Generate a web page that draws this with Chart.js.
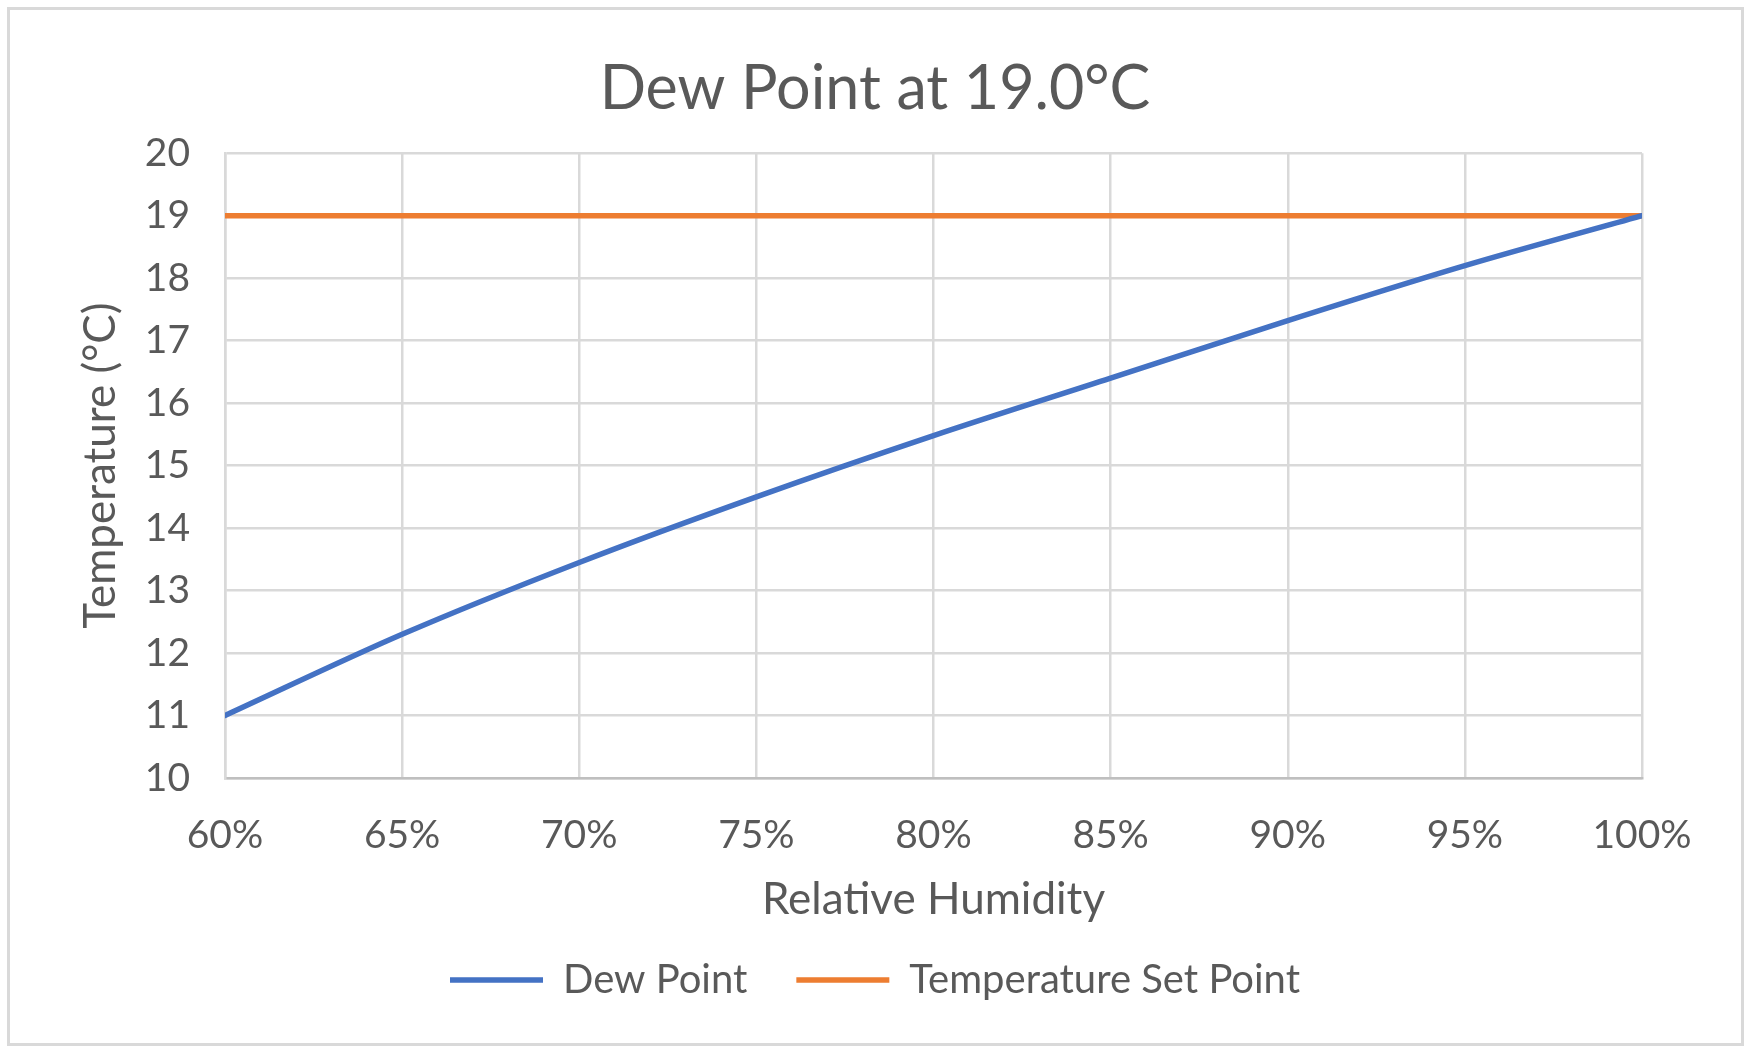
<!DOCTYPE html>
<html>
<head>
<meta charset="utf-8">
<title>Dew Point at 19.0°C</title>
<script src="https://cdn.jsdelivr.net/npm/chart.js@4.4.1/dist/chart.umd.min.js"></script>
<style>
    html, body { margin: 0; padding: 0; background: #fff; }
    #frame {
        position: absolute; left: 7px; top: 7px;
        width: 1737px; height: 1039px;
        border: 3px solid #d9d9d9; box-sizing: border-box;
    }
    #chart { position: absolute; left: 0; top: 0; }
</style>
</head>
<body>
<div id="frame"></div>
<canvas id="chart" width="1750" height="1048"></canvas>
<script>
/* ── data ── */
const humidity = [60, 65, 70, 75, 80, 85, 90, 95, 100];          // %
const dewPoint = [11.0, 12.3, 13.45, 14.5, 15.48, 16.4, 17.32, 18.2, 19.0];  // °C
const setPoint = [19, 19, 19, 19, 19, 19, 19, 19, 19];            // °C
const xTickStep = 5;
const yTickStep = 1;

const TEXT = '#595959';
const GRID = '#d9d9d9';
const BLUE = '#4472C4';
const ORANGE = '#ED7D31';

Chart.defaults.font.family = 'Lato, "Open Sans", sans-serif';
Chart.defaults.color = TEXT;

const toPoints = (ys) => humidity.map((x, i) => ({ x, y: ys[i] }));

new Chart(document.getElementById('chart'), {
    type: 'line',
    data: {
        datasets: [{
            label: 'Dew Point',
            data: toPoints(dewPoint),
            borderColor: BLUE,
            backgroundColor: BLUE,
            borderWidth: 5.5,
            pointRadius: 0,
            cubicInterpolationMode: 'monotone',
            borderCapStyle: 'round',
        }, {
            label: 'Temperature Set Point',
            data: toPoints(setPoint),
            borderColor: ORANGE,
            backgroundColor: ORANGE,
            borderWidth: 5.5,
            pointRadius: 0,
            borderCapStyle: 'round',
        }],
    },
    options: {
        responsive: false,
        animation: false,
        layout: { padding: { left: 0, right: 0, top: 0, bottom: 38 } },
        plugins: {
            title: {
                display: true,
                text: 'Dew Point at 19.0°C',
                color: TEXT,
                font: { size: 61, weight: 'normal' },
                padding: { top: 53, bottom: 27 },
            },
            legend: {
                position: 'bottom',
                labels: {
                    boxWidth: 93,
                    boxHeight: 0,
                    padding: 49,
                    color: TEXT,
                    font: { size: 40 },
                },
            },
            tooltip: { enabled: false },
        },
        scales: {
            x: {
                type: 'linear',
                min: humidity[0],
                max: humidity[humidity.length - 1],
                ticks: {
                    stepSize: xTickStep,
                    padding: 34,
                    maxRotation: 0,
                    color: TEXT,
                    font: { size: 39 },
                    callback: (v) => v + '%',
                },
                grid: { color: GRID, lineWidth: 2.5, drawTicks: false },
                border: { color: '#bfbfbf', width: 2.5 },
                title: {
                    display: true,
                    text: 'Relative Humidity',
                    color: TEXT,
                    font: { size: 44 },
                    padding: { top: 0, bottom: -15 },
                },
                afterFit: (s) => { s.height = 133; },
            },
            y: {
                min: 10,
                max: 20,
                ticks: {
                    stepSize: yTickStep,
                    padding: 35,
                    color: TEXT,
                    font: { size: 39 },
                },
                grid: { color: GRID, lineWidth: 2.5, drawTicks: false },
                border: { color: GRID, width: 2.5 },
                title: {
                    display: true,
                    text: 'Temperature (°C)',
                    color: TEXT,
                    font: { size: 44 },
                    padding: { top: 74, bottom: 0 },
                },
                afterFit: (s) => { s.width = 225; },
            },
            // empty right gutter so the title/legend stay centred on the canvas
            yRight: {
                position: 'right',
                ticks: { display: false },
                grid: { display: false },
                border: { display: false },
                afterFit: (s) => { s.width = 108; },
            },
        },
    },
});
</script>
</body>
</html>
